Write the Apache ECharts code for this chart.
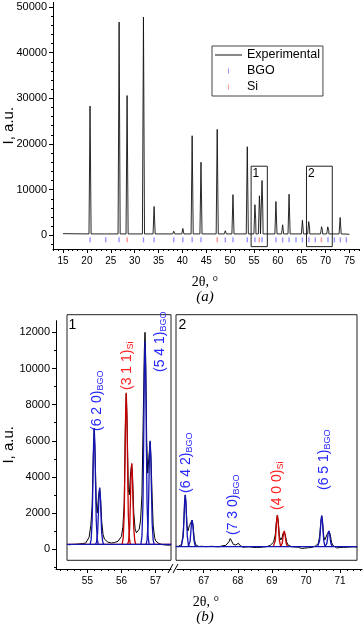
<!DOCTYPE html>
<html>
<head>
<meta charset="utf-8">
<script src="https://cdn.jsdelivr.net/npm/echarts@6/dist/echarts.min.js"></script>
<style>
html, body {margin: 0; padding: 0; background: #fff;}
#main {width: 364px; height: 628px;}
</style>
</head>
<body>
<div id="main"></div>
<script>
// ---------- (a) full pattern ----------
let topPeakPos = [20.66, 23.95, 26.75, 28.42, 31.85, 34.08, 38.2, 40.1, 42.05, 43.9, 47.3, 49.0, 50.6, 53.6,
    55.2, 55.36, 56.14, 56.3, 56.69, 56.84, 59.6, 61.0, 62.35, 63.8, 65.15, 66.46, 66.66, 67.8, 68.02,
    69.16, 69.36, 70.46, 70.67, 73.05];
let topPeakInt = [28300, 700, 46700, 30600, 47800, 6300, 900, 1500, 21800, 16000, 23200, 1000, 8900, 19400,
    6700, 3400, 8650, 4750, 12000, 6000, 7400, 2300, 9000, 600, 3300, 3000, 1600, 600, 320,
    1880, 1000, 1850, 1000, 3900];
let topBase = 300;
let bgoTicks = [20.66, 23.95, 26.75, 31.85, 34.08, 38.2, 40.1, 42.05, 43.9, 49.0, 50.6, 53.6, 55.2, 56.7,
    59.6, 61.0, 62.35, 63.8, 65.15, 66.5, 67.85, 70.5, 71.85, 73.1, 74.35];
let siTicks = [28.44, 47.3, 56.12, 69.13];
let topXLabels = [15, 20, 25, 30, 35, 40, 45, 50, 55, 60, 65, 70, 75];
let topXMinor = [13, 14, 16, 17, 18, 19, 21, 22, 23, 24, 26, 27, 28, 29, 31, 32, 33, 34, 36, 37, 38, 39,
    41, 42, 43, 44, 46, 47, 48, 49, 51, 52, 53, 54, 56, 57, 58, 59, 61, 62, 63, 64, 66, 67, 68, 69,
    71, 72, 73, 74, 76, 77];
let topYLabels = [0, 10000, 20000, 30000, 40000, 50000];
let topYMinor = [-2000, 2000, 4000, 6000, 8000, 12000, 14000, 16000, 18000, 22000, 24000, 26000, 28000,
    32000, 34000, 36000, 38000, 42000, 44000, 46000, 48000];

// ---------- (b) window 1 ----------
let win1Exp = [[54.45,230],[54.5,200],[54.55,250],[54.6,180],[54.65,260],[54.7,210],[54.75,280],[54.8,230],
    [54.85,300],[54.9,270],[54.95,330],[55.0,420],[55.05,650],[55.1,1300],[55.14,2400],[55.17,5000],
    [55.2,6650],[55.23,5000],[55.26,2600],[55.29,2000],[55.33,3000],[55.36,3350],[55.39,2700],[55.42,1500],
    [55.46,800],[55.5,550],[55.55,450],[55.6,380],[55.65,350],[55.7,330],[55.75,340],[55.8,360],[55.85,400],
    [55.9,430],[55.95,520],[56.0,700],[56.04,1200],[56.08,2500],[56.11,6500],[56.14,8600],[56.17,6500],
    [56.2,3300],[56.23,3000],[56.27,4300],[56.3,4700],[56.33,3700],[56.36,2000],[56.4,1100],[56.44,900],
    [56.48,950],[56.52,1100],[56.56,1600],[56.6,3000],[56.64,7500],[56.67,11000],[56.69,12000],[56.71,10500],
    [56.74,6000],[56.77,4200],[56.8,5000],[56.84,5950],[56.87,4800],[56.9,2800],[56.93,1300],[56.97,650],
    [57.0,450],[57.05,350],[57.1,300],[57.15,260],[57.2,240],[57.25,280],[57.3,220],[57.35,250],[57.4,210],[57.45,230]];
let win1Base = [[54.4,260],[57.46,260]];
let bgo620a = [[55.08,260],[55.11,520],[55.14,1550],[55.16,3480],[55.18,5730],[55.2,6700],[55.22,5730],
    [55.24,3480],[55.26,1550],[55.29,520],[55.32,260]];
let bgo620b = [[55.24,260],[55.27,390],[55.3,890],[55.32,1830],[55.34,2930],[55.36,3400],[55.38,2930],
    [55.4,1830],[55.42,890],[55.45,390],[55.48,260]];
let bgo541a = [[56.57,260],[56.6,710],[56.63,2510],[56.65,5880],[56.67,9810],[56.69,11500],[56.71,9810],
    [56.73,5880],[56.75,2510],[56.78,710],[56.81,260]];
let bgo541b = [[56.72,260],[56.75,490],[56.78,1410],[56.8,3130],[56.82,5140],[56.84,6000],[56.86,5140],
    [56.88,3130],[56.9,1410],[56.93,490],[56.96,260]];
let si311a = [[56.02,260],[56.05,600],[56.08,1940],[56.1,4460],[56.12,7390],[56.14,8650],[56.16,7390],
    [56.18,4460],[56.2,1940],[56.23,600],[56.26,260]];
let si311b = [[56.18,260],[56.21,440],[56.24,1160],[56.26,2500],[56.28,4080],[56.3,4750],[56.32,4080],
    [56.34,2500],[56.36,1160],[56.39,440],[56.42,260]];

// ---------- (b) window 2 ----------
let win2Exp = [[66.19,150],[66.25,140],[66.3,170],[66.35,250],[66.39,700],[66.42,1600],[66.44,2600],[66.46,2990],
    [66.48,2500],[66.51,1300],[66.54,1000],[66.58,1300],[66.62,1400],[66.66,1600],[66.69,1300],[66.72,600],
    [66.76,250],[66.8,170],[66.85,140],[66.9,120],[66.95,150],[67.0,110],[67.05,130],[67.1,90],[67.15,140],
    [67.2,110],[67.25,150],[67.3,100],[67.35,130],[67.4,160],[67.45,120],[67.5,140],[67.55,180],[67.6,150],
    [67.65,200],[67.7,260],[67.74,400],[67.78,580],[67.8,600],[67.83,480],[67.87,250],[67.9,200],[67.94,220],
    [67.98,300],[68.02,320],[68.06,200],[68.1,130],[68.15,100],[68.2,60],[68.25,110],[68.3,70],[68.35,120],
    [68.4,60],[68.45,90],[68.5,130],[68.55,80],[68.6,120],[68.65,90],[68.7,140],[68.75,110],[68.8,150],
    [68.85,130],[68.9,180],[68.95,200],[69.0,250],[69.05,380],[69.1,800],[69.13,1500],[69.16,1870],[69.19,1450],
    [69.22,700],[69.26,500],[69.3,650],[69.33,880],[69.36,990],[69.39,820],[69.43,400],[69.47,230],[69.52,150],
    [69.57,130],[69.62,90],[69.67,110],[69.72,60],[69.77,100],[69.82,70],[69.87,30],[69.92,80],[69.97,50],
    [70.02,100],[70.07,70],[70.12,110],[70.17,90],[70.22,130],[70.27,160],[70.32,200],[70.36,300],[70.4,700],
    [70.43,1400],[70.46,1840],[70.49,1400],[70.52,700],[70.55,500],[70.59,600],[70.63,850],[70.67,990],
    [70.71,800],[70.75,350],[70.8,180],[70.85,100],[70.9,60],[70.95,40],[71.0,80],[71.05,50],[71.1,90],
    [71.15,60],[71.2,100],[71.25,70],[71.3,110],[71.35,80],[71.4,120],[71.45,100],[71.5,110]];
let win2Base = [[66.18,130],[71.5,130]];
let bgo642a = [[66.34,130],[66.37,240],[66.4,700],[66.42,1570],[66.44,2570],[66.46,3000],[66.48,2570],
    [66.5,1570],[66.52,700],[66.55,240],[66.58,130]];
let bgo642b = [[66.54,130],[66.57,190],[66.6,420],[66.62,870],[66.64,1380],[66.66,1600],[66.68,1380],
    [66.7,870],[66.72,420],[66.75,190],[66.78,130]];
let bgo651a = [[70.34,130],[70.37,200],[70.4,470],[70.42,990],[70.44,1590],[70.46,1850],[70.48,1590],
    [70.5,990],[70.52,470],[70.55,200],[70.58,130]];
let bgo651b = [[70.55,130],[70.58,165],[70.61,300],[70.63,565],[70.65,870],[70.67,1000],[70.69,870],
    [70.71,565],[70.73,300],[70.76,165],[70.79,130]];
let si400a = [[69.04,130],[69.07,200],[69.1,480],[69.12,1005],[69.14,1620],[69.16,1880],[69.18,1620],
    [69.2,1005],[69.22,480],[69.25,200],[69.28,130]];
let si400b = [[69.24,130],[69.27,165],[69.3,300],[69.32,565],[69.34,870],[69.36,1000],[69.38,870],
    [69.4,565],[69.42,300],[69.45,165],[69.48,130]];

let botYLabels = [0, 2000, 4000, 6000, 8000, 10000, 12000];
let botYMinor = [-1000, 1000, 3000, 5000, 7000, 9000, 11000];
let win1XLabels = [55, 56, 57];
let win1XMinor = [54.2, 54.4, 54.6, 54.8, 55.2, 55.4, 55.6, 55.8, 56.2, 56.4, 56.6, 56.8, 57.2, 57.4];
let win2XLabels = [67, 68, 69, 70, 71];
let win2XMinor = [66.4, 66.6, 66.8, 67.2, 67.4, 67.6, 67.8, 68.2, 68.4, 68.6, 68.8, 69.2, 69.4, 69.6, 69.8,
    70.2, 70.4, 70.6, 70.8, 71.2, 71.4, 71.6];

const FONT = 'Liberation Sans';
const BLUE = '#1414b4';
const RED = '#c40000';
const LBLUE = '#2626ff';
const LRED = '#ff2222';
const tickIcon = 'path://M0,0L1,0L1,5L0,5Z';
const lineIcon = 'path://M0,0L27,0L27,1L0,1Z';

// build the stick-like experimental pattern from the read peak list
function buildPattern(pos, inten, base) {
    let pts = [[15.0, 360], [75.0, 240]];
    for (let i = 0; i < pos.length; i++) {
        pts.push([pos[i] - 0.22, base], [pos[i], inten[i]], [pos[i] + 0.22, base]);
    }
    pts.sort(function (a, b) { return a[0] - b[0]; });
    return pts;
}

function valueAxis(gridIndex, min, max, opts) {
    let ax = {
        gridIndex: gridIndex, type: 'value', min: min, max: max,
        axisLine: {show: false, onZero: false, lineStyle: {color: '#000', width: 1}},
        axisTick: {show: false},
        axisLabel: {show: false},
        splitLine: {show: false}
    };
    return Object.assign(ax, opts || {});
}

function majorAxis(gridIndex, min, max, pos, labels, fontSize, margin, extra) {
    return valueAxis(gridIndex, min, max, Object.assign({
        position: pos,
        axisLine: {show: true, onZero: false, lineStyle: {color: '#000', width: 1}},
        axisTick: {show: true, inside: false, length: 4, customValues: labels, lineStyle: {color: '#000', width: 1}},
        axisLabel: {show: true, customValues: labels, margin: margin, fontSize: fontSize, color: '#000',
            fontFamily: FONT, hideOverlap: false,
            formatter: function (v) { return String(v); }}
    }, extra || {}));
}

function minorAxis(gridIndex, min, max, pos, ticks) {
    return valueAxis(gridIndex, min, max, {
        position: pos,
        axisTick: {show: true, inside: false, length: 2, customValues: ticks, lineStyle: {color: '#000', width: 1}}
    });
}

function fitLines(parts, color, xi, yi, name) {
    return parts.map(function (d, k) {
        return {
            name: name + k, type: 'line', xAxisIndex: xi, yAxisIndex: yi, data: d,
            symbol: 'none', showSymbol: false, silent: true,
            lineStyle: {color: color, width: 1.3}
        };
    });
}

function peakLabel(x, y, hkl, phase, color) {
    return {
        type: 'text', x: x, y: y, rotation: Math.PI / 2, silent: true,
        style: {
            text: '{m|' + hkl + '}{s|' + phase + '}',
            align: 'left', verticalAlign: 'middle',
            rich: {
                m: {fontSize: 14, fontFamily: FONT, fill: color, lineHeight: 15, verticalAlign: 'top'},
                s: {fontSize: 9, fontFamily: FONT, fill: color, lineHeight: 9, verticalAlign: 'bottom', padding: [8, 0, 0, 0]}
            }
        }
    };
}

function plainText(x, y, text, font, extra) {
    return {
        type: 'text', x: x, y: y, silent: true,
        style: Object.assign({text: text, font: font, fill: '#000', align: 'center', verticalAlign: 'middle'}, extra || {})
    };
}

let myChart = echarts.init(document.getElementById('main'), null, {renderer: 'canvas'});

let series = [
    {
        name: 'Experimental', type: 'line', xAxisIndex: 0, yAxisIndex: 0,
        data: buildPattern(topPeakPos, topPeakInt, topBase),
        symbol: 'none', showSymbol: false, silent: true,
        itemStyle: {color: '#111'},
        lineStyle: {color: '#111', width: 0.9},
        markArea: {
            silent: true,
            itemStyle: {color: 'rgba(0,0,0,0)', borderColor: '#222', borderWidth: 1},
            label: {show: true, position: 'insideTopLeft', distance: 2, color: '#000', fontSize: 12, fontFamily: FONT},
            data: [
                [{name: '1', xAxis: 54.4, yAxis: -2480}, {xAxis: 57.8, yAxis: 15130}],
                [{name: '2', xAxis: 66.0, yAxis: -2480}, {xAxis: 71.4, yAxis: 15130}]
            ]
        }
    },
    {
        name: 'BGO', type: 'scatter', xAxisIndex: 0, yAxisIndex: 0, silent: true,
        symbol: 'rect', symbolSize: [1.4, 5], itemStyle: {color: '#7b7bff'},
        data: bgoTicks.map(function (x) { return [x, -1000]; })
    },
    {
        name: 'Si', type: 'scatter', xAxisIndex: 0, yAxisIndex: 0, silent: true,
        symbol: 'rect', symbolSize: [1.4, 5], itemStyle: {color: '#ff7b7b'},
        data: siTicks.map(function (x) { return [x, -1000]; })
    },
    // window 1
    {name: 'exp1', type: 'line', xAxisIndex: 6, yAxisIndex: 5, data: win1Exp, symbol: 'none', silent: true,
        lineStyle: {color: '#000', width: 1}},
    {name: 'siBase1', type: 'line', xAxisIndex: 6, yAxisIndex: 5, data: win1Base, symbol: 'none', silent: true,
        lineStyle: {color: RED, width: 1.3}}
].concat(
    fitLines([si311a, si311b], RED, 6, 5, 'si1_'),
    [{name: 'bgoBase1', type: 'line', xAxisIndex: 6, yAxisIndex: 5, data: win1Base, symbol: 'none', silent: true,
        lineStyle: {color: BLUE, width: 1.3}}],
    fitLines([bgo620a, bgo620b, bgo541a, bgo541b], BLUE, 6, 5, 'bgo1_'),
    // window 2
    [{name: 'exp2', type: 'line', xAxisIndex: 7, yAxisIndex: 6, data: win2Exp, symbol: 'none', silent: true,
        lineStyle: {color: '#000', width: 1}}],
    fitLines([si400a, si400b], RED, 7, 6, 'si2_'),
    [{name: 'bgoBase2', type: 'line', xAxisIndex: 7, yAxisIndex: 6, data: win2Base, symbol: 'none', silent: true,
        lineStyle: {color: BLUE, width: 1.3}}],
    fitLines([bgo642a, bgo642b, bgo651a, bgo651b], BLUE, 7, 6, 'bgo2_')
);

let option = {
    animation: false,
    backgroundColor: '#fff',
    grid: [
        {left: 53, top: 2.4, width: 306, height: 246.6, outerBoundsMode: 'none', containLabel: false},
        {left: 56, top: 320.7, width: 115, height: 248.3, outerBoundsMode: 'none', containLabel: false},
        {left: 177, top: 320.7, width: 185, height: 248.3, outerBoundsMode: 'none', containLabel: false},
        {left: 67, top: 314.7, width: 104, height: 245.6, show: true, borderColor: '#222', borderWidth: 1,
            backgroundColor: 'transparent', outerBoundsMode: 'none', containLabel: false},
        {left: 176, top: 314.7, width: 181, height: 245.6, show: true, borderColor: '#222', borderWidth: 1,
            backgroundColor: 'transparent', outerBoundsMode: 'none', containLabel: false}
    ],
    legend: {
        orient: 'vertical', left: 212, top: 46, padding: [2, 3, 2, 3], itemGap: 2,
        itemWidth: 27, itemHeight: 5, symbolKeepAspect: true,
        backgroundColor: '#fff', borderColor: '#444', borderWidth: 1, borderRadius: 0,
        selectedMode: false,
        textStyle: {fontSize: 12.5, fontFamily: FONT, color: '#000', lineHeight: 14, padding: [0, 0, 0, 0]},
        data: [
            {name: 'Experimental', icon: lineIcon},
            {name: 'BGO', icon: tickIcon},
            {name: 'Si', icon: tickIcon}
        ]
    },
    xAxis: [
        majorAxis(0, 12.9, 77, 'bottom', topXLabels, 10, 7),
        minorAxis(0, 12.9, 77, 'bottom', topXMinor),
        majorAxis(1, 54.079, 57.452, 'bottom', win1XLabels, 10, 7),
        minorAxis(1, 54.079, 57.452, 'bottom', win1XMinor),
        majorAxis(2, 66.217, 71.642, 'bottom', win2XLabels, 10, 7),
        minorAxis(2, 66.217, 71.642, 'bottom', win2XMinor),
        valueAxis(3, 54.402, 57.452, {show: false}),
        valueAxis(4, 66.188, 71.495, {show: false})
    ],
    yAxis: [
        majorAxis(0, -3000, 51000, 'left', topYLabels, 11, 6, {
            name: 'I, a.u.', nameLocation: 'middle', nameGap: 37, nameMoveOverlap: false,
            nameTextStyle: {fontSize: 15, fontFamily: FONT, color: '#000'}
        }),
        minorAxis(0, -3000, 51000, 'left', topYMinor),
        majorAxis(1, -1100, 12650, 'left', botYLabels, 11, 6, {
            name: 'I, a.u.', nameLocation: 'middle', nameGap: 40, nameMoveOverlap: false,
            nameTextStyle: {fontSize: 15, fontFamily: FONT, color: '#000'}
        }),
        minorAxis(1, -1100, 12650, 'left', botYMinor),
        valueAxis(2, -1100, 12650, {show: false}),
        valueAxis(3, -626, 12976, {show: false}),
        valueAxis(4, -626, 12976, {show: false})
    ],
    series: series,
    graphic: [
        plainText(205, 282, '2θ, °', '14px "Liberation Serif"'),
        plainText(205, 297, '(a)', 'italic 15px "Liberation Serif"'),
        plainText(206, 602, '2θ, °', '14px "Liberation Serif"'),
        plainText(205, 617, '(b)', 'italic 15px "Liberation Serif"'),
        plainText(72.5, 325, '1', '14px "Liberation Sans"'),
        plainText(182.5, 325, '2', '14px "Liberation Sans"'),
        // axis break
        {type: 'line', silent: true, shape: {x1: 168, y1: 573, x2: 173, y2: 564}, style: {stroke: '#000', lineWidth: 1}},
        {type: 'line', silent: true, shape: {x1: 173, y1: 573, x2: 178, y2: 564}, style: {stroke: '#000', lineWidth: 1}},
        // peak assignments
        peakLabel(97.5, 431, '(6 2 0)', 'BGO', LBLUE),
        peakLabel(127.5, 390, '(3 1 1)', 'Si', LRED),
        peakLabel(161, 372, '(5 4 1)', 'BGO', LBLUE),
        peakLabel(186.5, 493, '(6 4 2)', 'BGO', LBLUE),
        peakLabel(234, 535, '(7 3 0)', 'BGO', LBLUE),
        peakLabel(278, 510, '(4 0 0)', 'Si', LRED),
        peakLabel(325, 490, '(6 5 1)', 'BGO', LBLUE)
    ]
};

myChart.setOption(option);
</script>
</body>
</html>
